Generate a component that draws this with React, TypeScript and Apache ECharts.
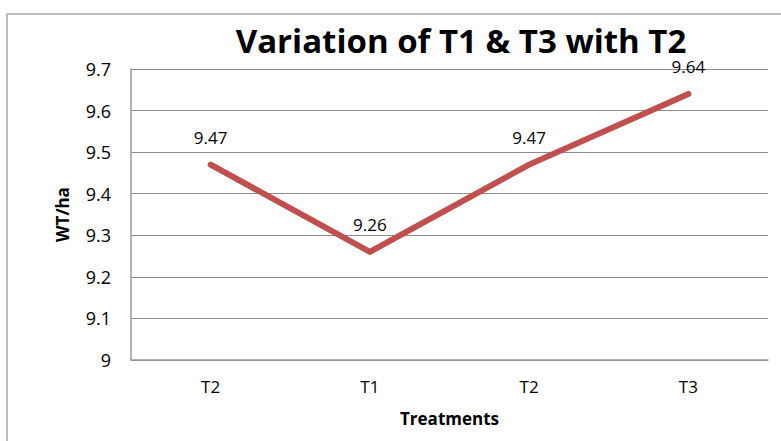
import React, { useEffect, useRef } from "react";
import * as echarts from "echarts";

const categories = ["T2", "T1", "T2", "T3"];
const values = [9.47, 9.26, 9.47, 9.64];
const yMin = 9;
const yMax = 9.7;
const yInterval = 0.1;
const titleText = "Variation of T1 & T3 with T2";
const yAxisName = "WT/ha";
const xAxisName = "Treatments";

const FONT = "'Open Sans', sans-serif";

export default function App() {
  const ref = useRef<HTMLDivElement>(null);
  useEffect(() => {
    if (!ref.current) return;
    const chart = echarts.init(ref.current, null, { renderer: "svg" });
    chart.setOption({
      animation: false,
      backgroundColor: "#ffffff",
      graphic: [
        {
          type: "rect",
          shape: { x: 7, y: 14, width: 820, height: 500 },
          style: { fill: "none", stroke: "#bdbdbd", lineWidth: 2 },
          silent: true,
        },
      ],
      title: {
        text: titleText,
        left: 456,
        textAlign: "center",
        top: 21,
        textStyle: { fontFamily: FONT, fontSize: 33, fontWeight: "bold", color: "#000", lineHeight: 28 },
      },
      grid: { left: 131, right: 13, top: 69, bottom: 81, containLabel: false },
      xAxis: {
        type: "category",
        data: categories,
        boundaryGap: true,
        name: xAxisName,
        nameLocation: "middle",
        nameGap: 50,
        nameTextStyle: { fontFamily: FONT, fontSize: 17, fontWeight: "bold", color: "#000" },
        axisLine: { lineStyle: { color: "#9a9a9a", width: 1.5 } },
        axisTick: { show: false },
        axisLabel: { fontFamily: FONT, fontSize: 17, color: "#000", margin: 18 },
      },
      yAxis: {
        type: "value",
        min: yMin,
        max: yMax,
        interval: yInterval,
        name: yAxisName,
        nameLocation: "middle",
        nameGap: 60,
        nameRotate: 90,
        nameTextStyle: { fontFamily: FONT, fontSize: 17, fontWeight: "bold", color: "#000" },
        axisLine: { show: true, lineStyle: { color: "#9a9a9a", width: 1.5 } },
        axisTick: { show: false },
        splitLine: { lineStyle: { color: "#8c8c8c", width: 1.2 } },
        axisLabel: {
          fontFamily: FONT,
          fontSize: 18,
          color: "#000",
          margin: 20,
          formatter: (v: number) => String(Math.round(v * 10) / 10),
        },
      },
      series: [
        {
          type: "line",
          data: values,
          symbol: "circle",
          symbolSize: 2,
          itemStyle: { color: "#C0504D" },
          lineStyle: { color: "#C0504D", width: 6, cap: "round", join: "miter" },
          label: {
            show: true,
            position: "top",
            distance: 19,
            lineHeight: 14,
            fontFamily: FONT,
            fontSize: 17,
            color: "#000",
            formatter: (p: any) => Number(p.value).toFixed(2),
          },
        },
      ],
    });
    return () => chart.dispose();
  }, []);
  return (
    <div
      ref={ref}
      style={{ position: "fixed", left: 0, top: 0, width: 781, height: 441 }}
    />
  );
}
